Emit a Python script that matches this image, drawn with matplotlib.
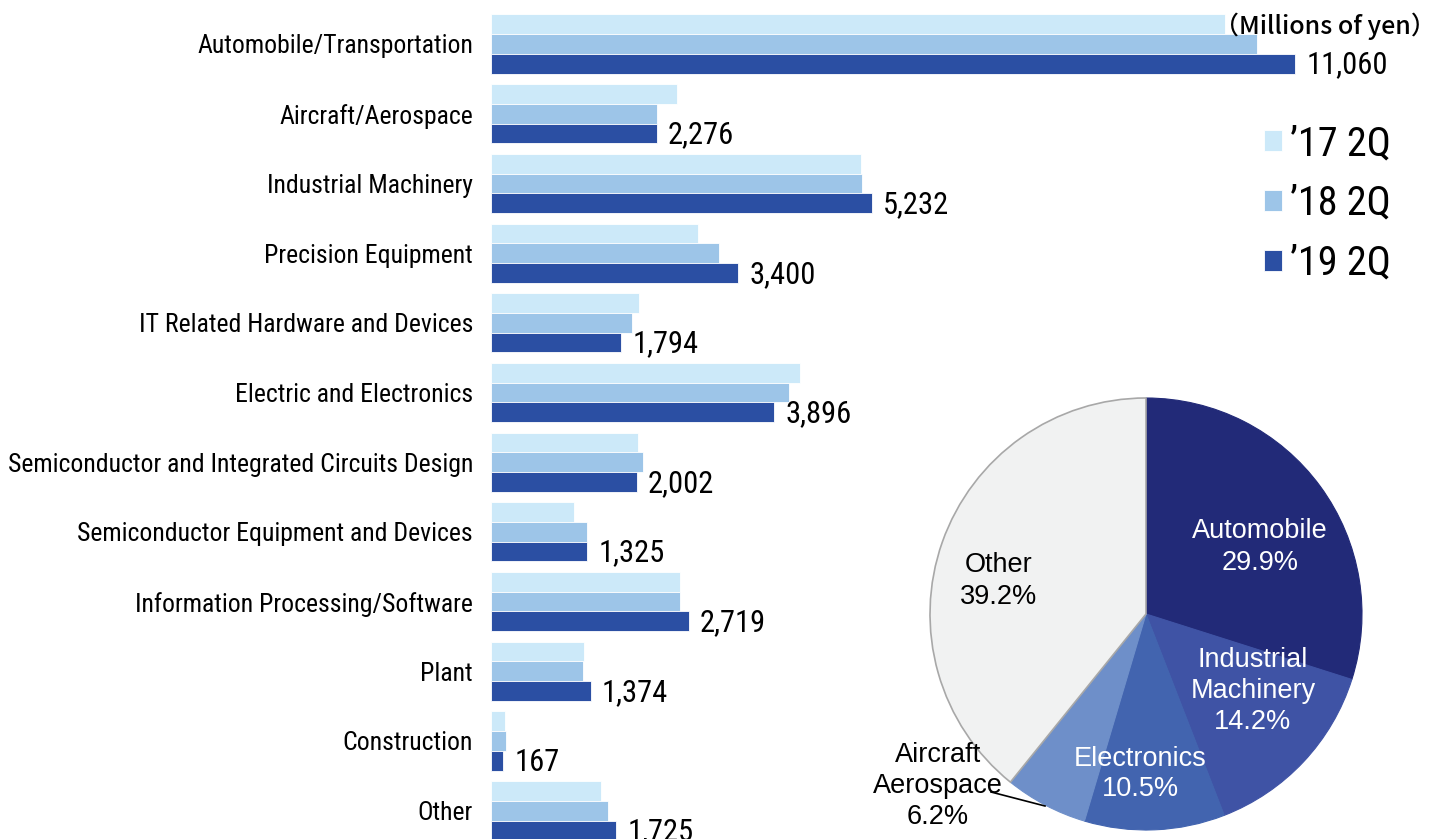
import matplotlib
matplotlib.use("Agg")
import matplotlib.pyplot as plt
from matplotlib import font_manager as fm
import numpy as np

# ---------------- data ----------------
categories = [
    "Automobile/Transportation",
    "Aircraft/Aerospace",
    "Industrial Machinery",
    "Precision Equipment",
    "IT Related Hardware and Devices",
    "Electric and Electronics",
    "Semiconductor and Integrated Circuits Design",
    "Semiconductor Equipment and Devices",
    "Information Processing/Software",
    "Plant",
    "Construction",
    "Other",
]
series_names = ["\u201917 2Q", "\u201918 2Q", "\u201919 2Q"]
v17 = [10090, 2555, 5087, 2845, 2031, 4249, 2017, 1147, 2605, 1279, 193, 1519]
v18 = [10530, 2285, 5100, 3135, 1942, 4097, 2094, 1323, 2592, 1266, 206, 1607]
v19 = [11060, 2276, 5232, 3400, 1794, 3896, 2002, 1325, 2719, 1374, 167, 1725]

pie_labels = ["Automobile\n29.9%", "Industrial\nMachinery\n14.2%", "Electronics\n10.5%",
              "Aircraft\nAerospace\n6.2%", "Other\n39.2%"]
pie_shares = [29.9, 14.2, 10.5, 6.2, 39.2]

unit_label = "\uff08Millions of yen\uff09"

# ---------------- fonts ----------------
entries = fm.fontManager.ttflist
names = {f.name for f in entries}
narrow_family = None
narrow_file = None
for cand in ["Liberation Sans Narrow", "Roboto Condensed", "Open Sans Condensed",
             "Noto Sans Condensed", "DejaVu Sans Condensed"]:
    if cand in names:
        narrow_family = cand
        break
if narrow_family is None:
    cond = [f for f in entries if f.name == "DejaVu Sans" and "ondensed" in str(f.stretch)
            and f.weight in (400, "normal", "regular") and f.style == "normal"]
    if cond:
        narrow_file = cond[0].fname
    else:
        narrow_family = "Noto Sans CJK JP"


def narrow(size):
    if narrow_family is not None:
        return fm.FontProperties(family=narrow_family, size=size)
    return fm.FontProperties(fname=narrow_file, size=size * 0.95)


SANS = "Liberation Sans"

# ---------------- style ----------------
bar_colors = ["#CCE9F9", "#9DC5E8", "#2B4FA3"]
pie_colors = ["#222A78", "#3F53A5", "#4264AF", "#6E8FC9", "#F1F2F2"]
pie_text_colors = ["white", "white", "white", "black", "black"]

W, H = 1439, 839
fig = plt.figure(figsize=(W / 100, H / 100), dpi=100)

# bar axes
x0_px = 491
ax = fig.add_axes([x0_px / W, 0, (W - x0_px) / W, 1])
px_per_unit = 804.4 / 11060
ax.set_xlim(0, (W - x0_px) / px_per_unit)
step = 69.7
first = 44
ax.set_ylim((H - first) / step, -first / step)

y = np.arange(len(categories))
bh = 0.283
for k, (vals, col, name) in enumerate(zip([v17, v18, v19], bar_colors, series_names)):
    ax.barh(y + (k - 1) * bh, vals, height=bh, color=col, edgecolor="white",
            linewidth=0.6, label=name)

for yi, v in zip(y, v19):
    ax.annotate(f"{v:,}", xy=(v, yi + bh), xytext=(8, -1), textcoords="offset points",
                va="center", ha="left", fontproperties=narrow(22), color="black")

ax.set_yticks(y)
ax.set_yticklabels(categories)
for lab in ax.get_yticklabels():
    lab.set_fontproperties(narrow(18.5))
ax.tick_params(axis="y", length=0, pad=13)
ax.set_xticks([])
for s in ax.spines.values():
    s.set_visible(False)
ax.patch.set_alpha(0)

# legend
leg = fig.legend(loc="upper left", bbox_to_anchor=(1264 / W, 1 - 124 / H), frameon=False,
                 prop=narrow(29), handlelength=0.45,
                 handleheight=0.45, handletextpad=0.2, labelspacing=0.52,
                 borderpad=0, borderaxespad=0)

fig.text(1436 / W, 1 - 26 / H, unit_label, ha="right", va="center", fontsize=18,
         family=["Noto Sans CJK JP", "DejaVu Sans"], weight="medium")

# pie axes
cx, cy, r = 1146, 614, 216
pax = fig.add_axes([(cx - r) / W, (H - cy - r) / H, 2 * r / W, 2 * r / H])
wedges, _ = pax.pie(pie_shares, colors=pie_colors, startangle=90, counterclock=False,
                    radius=1, wedgeprops=dict(linewidth=0.8, edgecolor="#BBBBBB"))
for w in wedges[:4]:
    w.set_edgecolor(w.get_facecolor())
wedges[4].set_edgecolor("#A8A8A8")
wedges[4].set_linewidth(1.2)
wedges[4].set_zorder(3)
pax.set_xlim(-1, 1)
pax.set_ylim(-1, 1)
pax.set_aspect("auto")
pax.axis("off")

label_pos = [(1260, 547), (1253, 691), (1140, 774), (938, 786), (999, 581)]
for txt, (px, py), c in zip(pie_labels, label_pos, pie_text_colors):
    fig.text(px / W, 1 - py / H, txt, ha="center", va="center", fontsize=19.5,
             family=SANS, color=c, linespacing=1.25)

# leader line for Aircraft/Aerospace
fig.add_artist(plt.Line2D([991 / W, 1045 / W], [1 - 792 / H, 1 - 806 / H],
                          color="black", linewidth=1.2))

fig.savefig("out.png", dpi=100)
